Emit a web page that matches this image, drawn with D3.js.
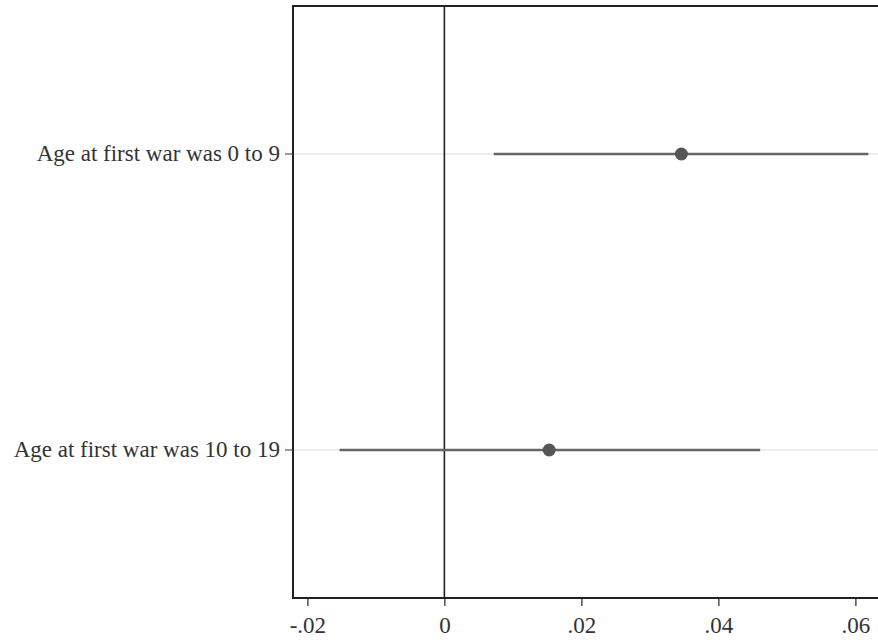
<!DOCTYPE html>
<html>
<head>
<meta charset="utf-8">
<script src="https://cdn.jsdelivr.net/npm/d3@7"></script>
<style>
  body { margin: 0; background: #fff; }
  svg { display: block; }
  text { font-family: "Liberation Serif", "DejaVu Serif", serif; fill: #333; }
</style>
</head>
<body>
<svg></svg>
<script>
// coefficient plot data
let labels = ["Age at first war was 0 to 9", "Age at first war was 10 to 19"]
let estimates = [0.0346, 0.0153]
let ciLow = [0.0072, -0.0153]
let ciHigh = [0.0619, 0.0461]
let xTicks = [-0.02, 0, 0.02, 0.04, 0.06]

let width = 878
let height = 642
let plotLeft = 293
let plotTop = 6
let plotBottom = 598

let svg = d3.select("svg").attr("width", width).attr("height", height)

let xScale = d3.scaleLinear().domain([-0.0221, 0.0655]).range([plotLeft, plotLeft + 0.0876 * 6850])
let yScale = d3.scaleBand().domain(labels).range([plotTop, plotBottom])
let yMid = d => yScale(d) + yScale.bandwidth() / 2

// gridlines
svg.selectAll(".grid")
  .data(labels)
  .enter()
  .append("line")
  .attr("class", "grid")
  .attr("x1", plotLeft).attr("x2", xScale.range()[1])
  .attr("y1", d => yMid(d)).attr("y2", d => yMid(d))
  .attr("stroke", "#e6e6e6").attr("stroke-width", 1.5)

// zero line
svg.append("line")
  .attr("x1", xScale(0)).attr("x2", xScale(0))
  .attr("y1", plotTop).attr("y2", plotBottom)
  .attr("stroke", "#222").attr("stroke-width", 1.6)

// confidence intervals
svg.selectAll(".ci")
  .data(labels)
  .enter()
  .append("line")
  .attr("class", "ci")
  .attr("x1", (d, i) => xScale(ciLow[i]))
  .attr("x2", (d, i) => xScale(ciHigh[i]))
  .attr("y1", d => yMid(d)).attr("y2", d => yMid(d))
  .attr("stroke", "#666").attr("stroke-width", 2.5)

// point estimates
svg.selectAll(".pt")
  .data(labels)
  .enter()
  .append("circle")
  .attr("class", "pt")
  .attr("cx", (d, i) => xScale(estimates[i]))
  .attr("cy", d => yMid(d))
  .attr("r", 6.5)
  .attr("fill", "#555")

// frame (right side runs off the canvas)
svg.append("rect")
  .attr("x", plotLeft).attr("y", plotTop)
  .attr("width", xScale.range()[1] - plotLeft).attr("height", plotBottom - plotTop)
  .attr("fill", "none").attr("stroke", "#222").attr("stroke-width", 2)

let fmt = d => d === 0 ? "0" : d3.format(".2f")(d).replace("\u2212", "-").replace("0.", ".")

let xAxis = d3.axisBottom(xScale).tickValues(xTicks).tickFormat(fmt).tickSize(7).tickPadding(11)
let gx = svg.append("g").attr("transform", "translate(0," + (plotBottom + 1) + ")").call(xAxis)
gx.select(".domain").remove()
gx.selectAll(".tick line").attr("stroke", "#333").attr("stroke-width", 1.3)
gx.selectAll("text").attr("font-size", 23).style("fill", "#333")

let yAxis = d3.axisLeft(yScale).tickSize(7).tickPadding(5)
let gy = svg.append("g").attr("transform", "translate(" + (plotLeft - 1) + ",0)").call(yAxis)
gy.select(".domain").remove()
gy.selectAll(".tick line").attr("stroke", "#555").attr("stroke-width", 1.2)
gy.selectAll("text").attr("font-size", 23).style("fill", "#333")
</script>
</body>
</html>
